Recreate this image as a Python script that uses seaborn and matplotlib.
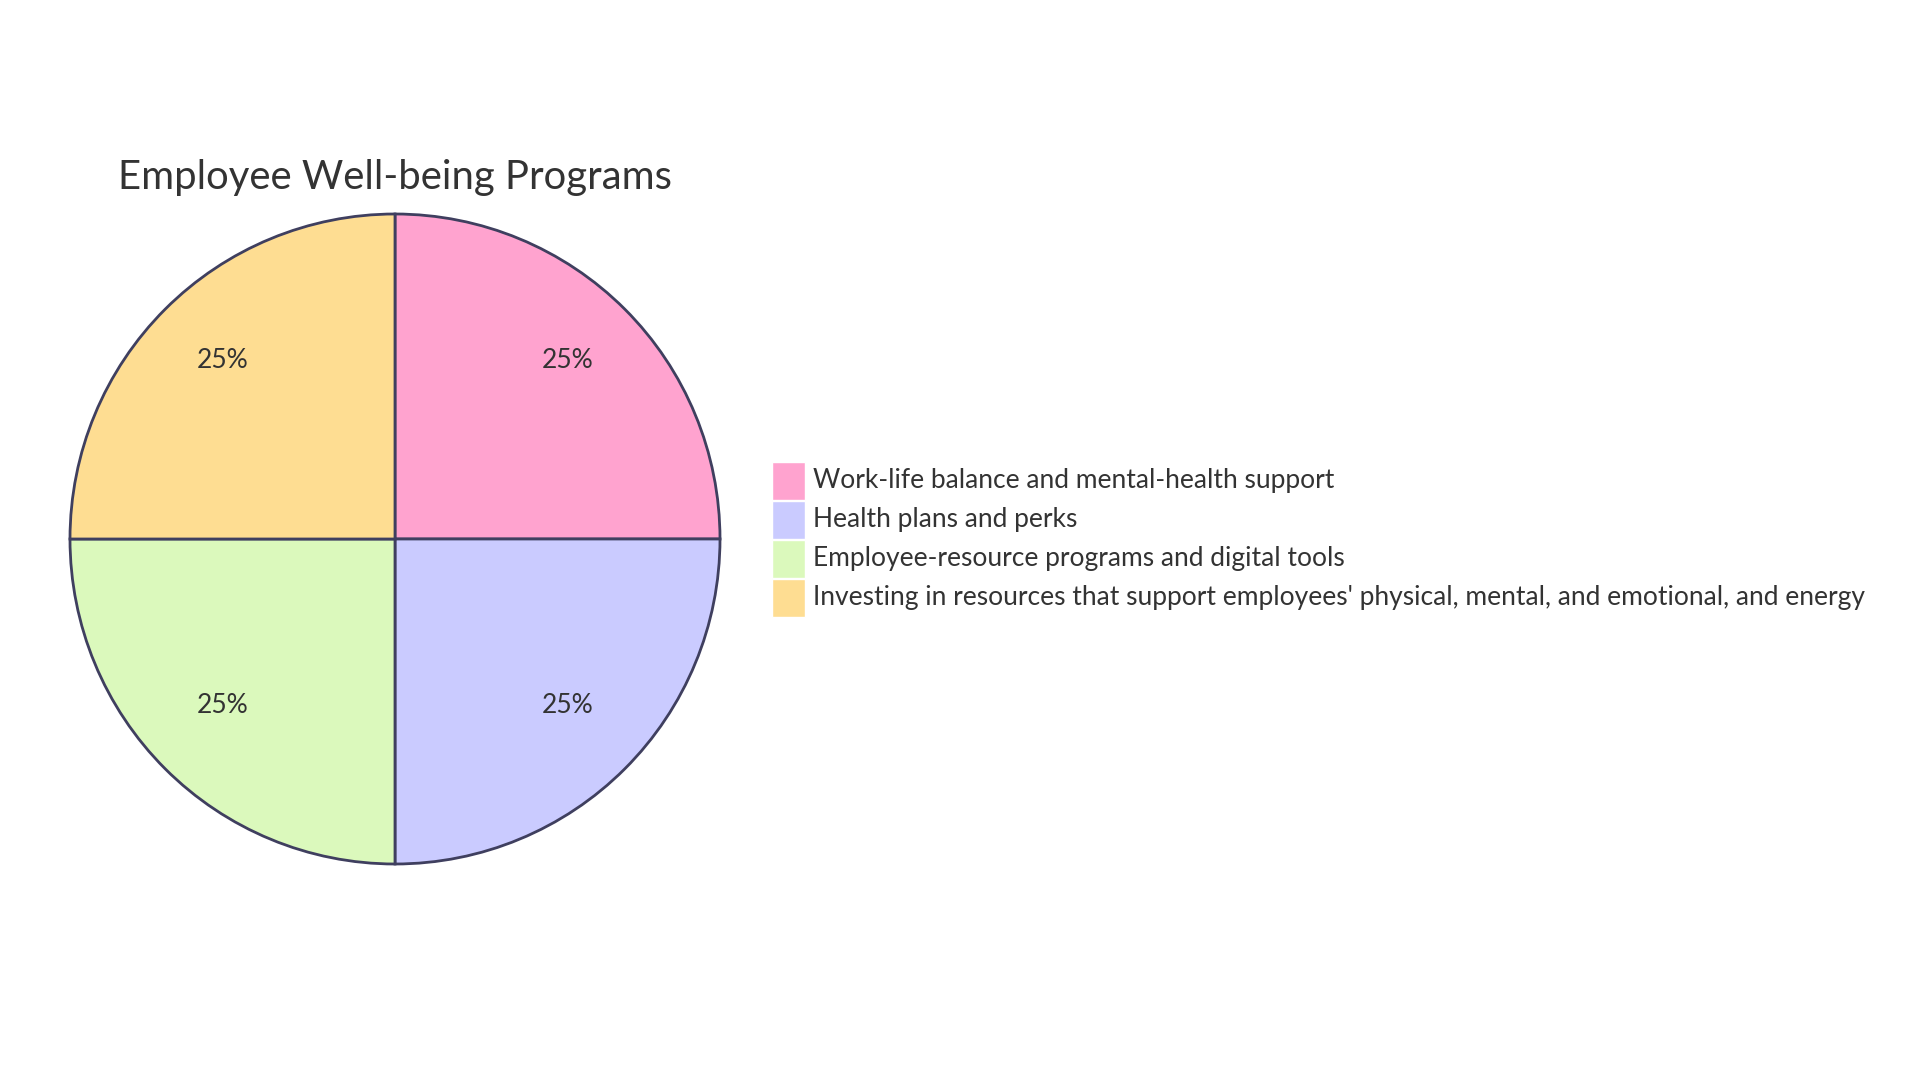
import matplotlib
matplotlib.use("Agg")
import matplotlib.pyplot as plt
import matplotlib.patches as mpatches
from matplotlib.legend_handler import HandlerPatch
import seaborn as sns

# data
categories = [
    "Work-life balance and mental-health support",
    "Health plans and perks",
    "Employee-resource programs and digital tools",
    "Investing in resources that support employees' physical, mental, and emotional, and energy",
]
values = [25, 25, 25, 25]
colors = ["#FFA3CF", "#CACBFF", "#DBF9BC", "#FEDD92"]
title = "Employee Well-being Programs"

sns.set_theme(style="white")
plt.rcParams["font.family"] = ["Lato", "DejaVu Sans"]
text_color = "#333333"
edge_color = "#3F3F5F"

W, H = 1920, 1080
fig = plt.figure(figsize=(W / 100, H / 100), dpi=100)

# pie axes: center (395, 539) px, radius 325 px
cx, cy, r = 395, 539, 325
ax = fig.add_axes([(cx - r) / W, 1 - (cy + r) / H, 2 * r / W, 2 * r / H])
wedges, _, autotexts = ax.pie(
    values,
    colors=colors,
    startangle=90,
    counterclock=False,
    radius=1,
    autopct="%1.0f%%",
    pctdistance=0.75,
    wedgeprops=dict(edgecolor=edge_color, linewidth=2),
    textprops=dict(fontsize=19, color=text_color),
)
for w in wedges:
    w.set_clip_on(False)
for t in autotexts:
    x, y = t.get_position()
    t.set_position((x, y + 0.0175))
ax.set_xlim(-1, 1)
ax.set_ylim(-1, 1)
ax.set_aspect("equal")
ax.axis("off")

fig.text(cx / W, 1 - 177 / H, title, ha="center", va="center",
         fontsize=28.8, color=text_color)


def square(legend, orig_handle, xdescent, ydescent, width, height, fontsize):
    # fixed-size swatch centred in the handle box
    size = 27.5
    yc = -ydescent + height / 2 - 1.5
    return mpatches.Rectangle((-xdescent, yc - size / 2), width, size)


handles = [mpatches.Patch(facecolor=c, edgecolor="white", linewidth=1) for c in colors]
leg = fig.legend(
    handles, categories,
    loc="upper left",
    bbox_to_anchor=(772 / W, 1 - 463 / H),
    bbox_transform=fig.transFigure,
    frameon=False,
    fontsize=19,
    borderpad=0,
    handlelength=1.25,
    handleheight=1.48,
    handletextpad=0.3,
    labelspacing=0.27,
    borderaxespad=0,
    handler_map={mpatches.Patch: HandlerPatch(patch_func=square)},
)
for t in leg.get_texts():
    t.set_color(text_color)

fig.savefig("out.png", dpi=100, facecolor="white")
